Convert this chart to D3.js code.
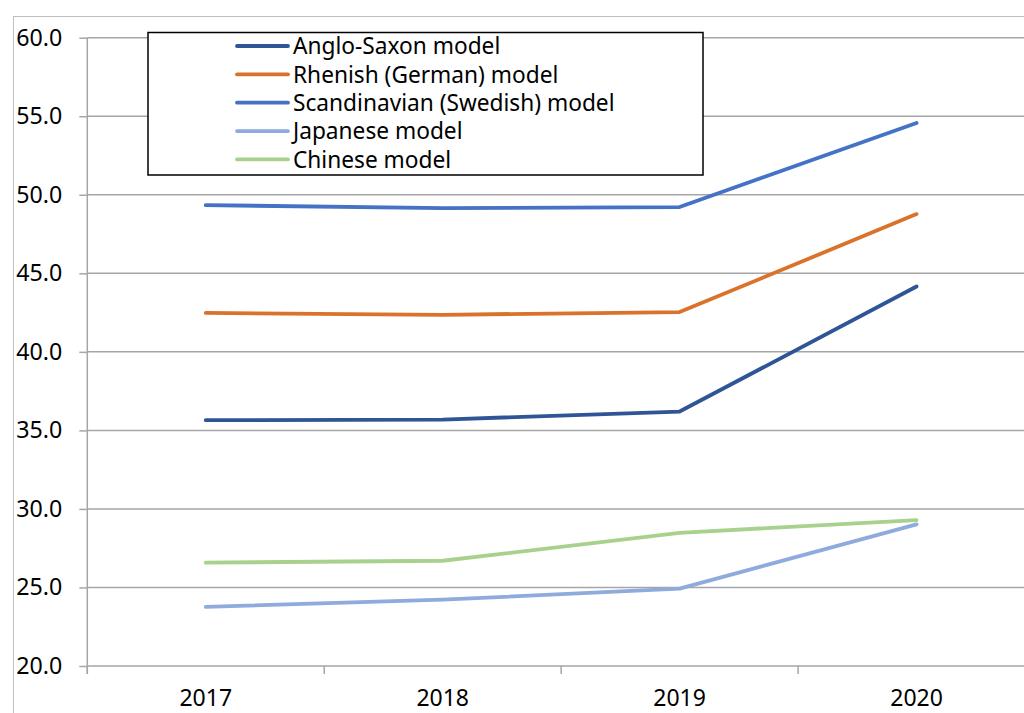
<!DOCTYPE html>
<html><head><meta charset="utf-8">
<script src="https://cdn.jsdelivr.net/npm/d3@7"></script>
<style>html,body{margin:0;padding:0;background:#fff;overflow:hidden}</style>
</head><body>
<svg id="c" width="1024" height="713"></svg>
<script>
const years = ["2017","2018","2019","2020"];
const seriesNames = ["Anglo-Saxon model","Rhenish (German) model","Scandinavian (Swedish) model","Japanese model","Chinese model"];
const angloSaxon   = [35.65, 35.69, 36.2, 44.16];
const rhenish      = [42.48, 42.36, 42.53, 48.77];
const scandinavian = [49.34, 49.15, 49.22, 54.57];
const japanese     = [23.76, 24.22, 24.93, 29.02];
const chinese      = [26.58, 26.70, 28.48, 29.29];
const colors = ["#2F5597","#D9732B","#4472C4","#8FAADC","#A9D18E"];
const yTicks = [20,25,30,35,40,45,50,55,60];

const seriesValues = [angloSaxon, rhenish, scandinavian, japanese, chinese];
const svg = d3.select("#c");
const font = "'Noto Sans', 'Open Sans', sans-serif";
const L = 87.3, R = 1035, T = 37.7, B = 666;

// outer chart border
svg.append("rect").attr("x",13.5).attr("y",16.5).attr("width",1100).attr("height",800)
  .attr("fill","none").attr("stroke","#bfbfbf").attr("stroke-width",1);

const x = d3.scaleBand().domain(years).range([L,R]).padding(0);
const y = d3.scaleLinear().domain([20,60]).range([B,T]);

// gridlines
svg.append("g").selectAll("line").data(yTicks).join("line")
  .attr("x1",L).attr("x2",R).attr("y1",d=>y(d)).attr("y2",d=>y(d))
  .attr("stroke","#a6a6a6").attr("stroke-width",1.5);

// y axis
const ya = svg.append("g").attr("transform",`translate(${L},0)`)
  .call(d3.axisLeft(y).tickValues(yTicks).tickFormat(d3.format(".1f")).tickSize(8).tickPadding(17));
ya.select(".domain").attr("stroke","#a6a6a6").attr("stroke-width",1.5).attr("d",`M0,${T}V${B+8}`);
ya.selectAll(".tick line").attr("stroke","#a6a6a6").attr("stroke-width",1.5);
ya.selectAll(".tick text").attr("font-family",font).attr("font-size",23.2).attr("fill","#000");

// x axis
const xa = svg.append("g").attr("transform",`translate(0,${B})`)
  .call(d3.axisBottom(x).tickSize(0).tickPadding(24));
xa.select(".domain").remove();
xa.selectAll(".tick text").attr("font-family",font).attr("font-size",23).attr("fill","#000");
// category boundary ticks
svg.append("g").selectAll("line").data(years.concat(["end"])).join("line")
  .attr("x1",(d,i)=>L+i*x.bandwidth()).attr("x2",(d,i)=>L+i*x.bandwidth())
  .attr("y1",B).attr("y2",B+8).attr("stroke","#a6a6a6").attr("stroke-width",1.5);

// lines
const line = d3.line().x((d,i)=>x(years[i])+x.bandwidth()/2).y(d=>y(d));
svg.append("g").selectAll("path").data(seriesValues).join("path")
  .attr("d",line).attr("fill","none").attr("stroke",(d,i)=>colors[i])
  .attr("stroke-width",3.8).attr("stroke-linecap","round").attr("stroke-linejoin","round");

// legend
const lg = svg.append("g");
lg.append("rect").attr("x",148).attr("y",32.5).attr("width",555).attr("height",142.5)
  .attr("fill","#fff").attr("stroke","#000").attr("stroke-width",1.5);
const rows = lg.selectAll("g").data(seriesNames).join("g")
  .attr("transform",(d,i)=>`translate(0,${46+i*28.35})`);
rows.append("line").attr("x1",237).attr("x2",288).attr("y1",0).attr("y2",0)
  .attr("stroke",(d,i)=>colors[i]).attr("stroke-width",3.8).attr("stroke-linecap","round");
rows.append("text").attr("x",293).attr("y",8.3).text(d=>d)
  .attr("font-family",font).attr("font-size",22.7).attr("fill","#000");
</script>
</body></html>
